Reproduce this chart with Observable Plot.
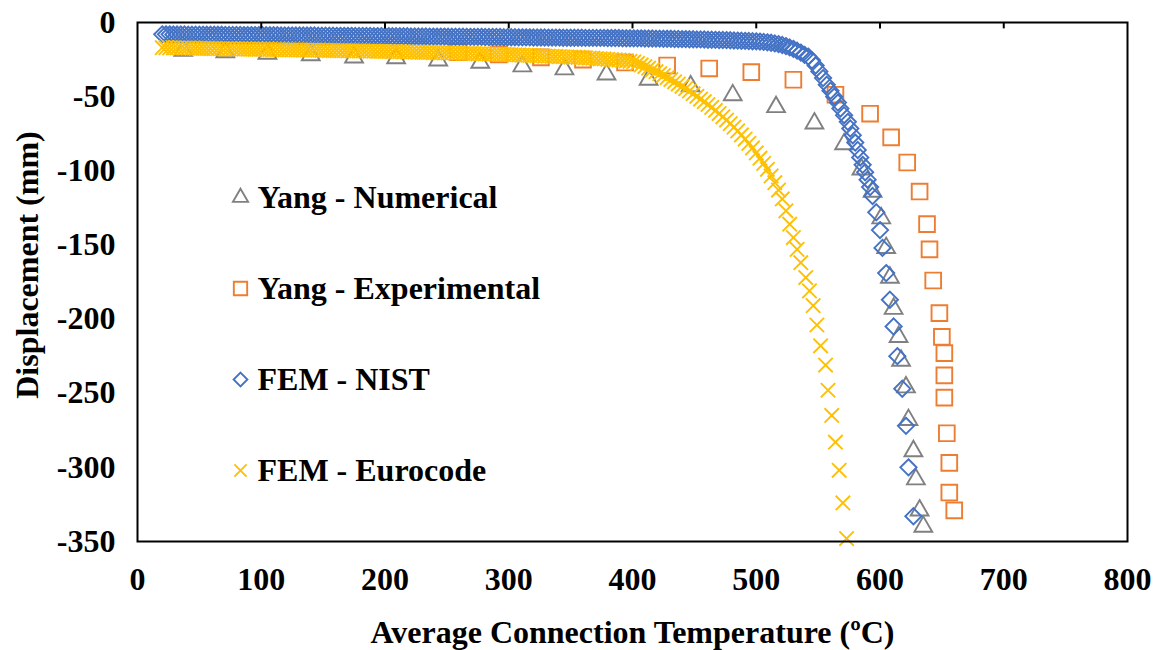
<!DOCTYPE html>
<html><head><meta charset="utf-8">
<script src="https://cdn.jsdelivr.net/npm/d3@7"></script>
<script src="https://cdn.jsdelivr.net/npm/@observablehq/plot@0.6"></script>
<style>body{margin:0;background:#fff} #chart{width:1158px;height:650px}</style>
</head><body><div id="chart"></div>
<script>
// ---- Data ----
const xTicks = [0, 100, 200, 300, 400, 500, 600, 700, 800];
const yTicks = [0, -50, -100, -150, -200, -250, -300, -350];

// Yang - Numerical
const numT = [37,71,105,140,175,209,243,277,311,345,379,413,447,481,516,547,571,585,594,601,605,608,611,615,617,621,623,627,629,632,635];
const numD = [-19,-20,-21,-22,-23.5,-24,-25.5,-27,-29.5,-31.5,-35,-38.5,-43,-49,-57,-68,-82,-99,-114,-132,-152,-172,-193,-212,-228,-246,-268,-289,-308,-329,-340];

// Yang - Experimental (visible points)
const expT = [259,292,326,360,394,428,462,496,530,564,592,609,622,632,638,640,643,648,650,652,652,652,654,656,656,660];
const expD = [-20,-21.5,-23.5,-25,-27,-29,-31,-33.5,-38.6,-48.7,-61.5,-77.5,-94.4,-114,-136,-153,-174,-196,-212,-223,-238,-253,-277,-297,-317,-329];

// FEM - NIST
const nistT = [
  20,23,26,29,32,35,38,41,44,47,
  50,53,56,59,62,65,68,71,74,77,
  80,83,86,89,92,95,98,101,104,107,
  110,113,116,119,122,125,128,131,134,137,
  140,143,146,149,152,155,158,161,164,167,
  170,173,176,179,182,185,188,191,194,197,
  200,203,206,209,212,215,218,221,224,227,
  230,233,236,239,242,245,248,251,254,257,
  260,263,266,269,272,275,278,281,284,287,
  290,293,296,299,302,305,308,311,314,317,
  320,323,326,329,332,335,338,341,344,347,
  350,353,356,359,362,365,368,371,374,377,
  380,383,386,389,392,395,398,401,404,407,
  410,413,416,419,422,425,428,431,434,437,
  440,443,446,449,452,455,458,461,464,467,
  470,473,476,479,482,485,488,491,494,497,
  500,503,506,509,512,515,518,521,524,527,
  530,533,536,539,542,545,548,551,554,557,
  560,563,566,568,571,574,576,578,580,582,
  584,586,588,590,592,594,597,600,602,605,
  608,611,614,618,621,623,627];
const nistD = [
  -8.0,-8.0,-8.0,-8.1,-8.1,-8.1,-8.1,-8.2,-8.2,-8.2,
  -8.2,-8.2,-8.3,-8.3,-8.3,-8.3,-8.3,-8.4,-8.4,-8.4,
  -8.4,-8.4,-8.5,-8.5,-8.5,-8.5,-8.5,-8.6,-8.6,-8.6,
  -8.6,-8.6,-8.7,-8.7,-8.7,-8.7,-8.7,-8.8,-8.8,-8.8,
  -8.8,-8.8,-8.9,-8.9,-8.9,-8.9,-8.9,-9.0,-9.0,-9.0,
  -9.0,-9.0,-9.1,-9.1,-9.1,-9.1,-9.1,-9.2,-9.2,-9.2,
  -9.2,-9.2,-9.3,-9.3,-9.3,-9.3,-9.3,-9.4,-9.4,-9.4,
  -9.4,-9.4,-9.5,-9.5,-9.5,-9.5,-9.5,-9.6,-9.6,-9.6,
  -9.6,-9.6,-9.7,-9.7,-9.7,-9.7,-9.7,-9.8,-9.8,-9.8,
  -9.8,-9.8,-9.9,-9.9,-9.9,-9.9,-10.0,-10.0,-10.0,-10.0,
  -10.1,-10.1,-10.1,-10.1,-10.2,-10.2,-10.2,-10.2,-10.3,-10.3,
  -10.3,-10.3,-10.3,-10.3,-10.4,-10.4,-10.4,-10.4,-10.4,-10.4,
  -10.5,-10.5,-10.5,-10.5,-10.6,-10.6,-10.6,-10.7,-10.7,-10.7,
  -10.8,-10.8,-10.8,-10.9,-10.9,-11.0,-11.0,-11.0,-11.1,-11.1,
  -11.2,-11.2,-11.3,-11.3,-11.4,-11.4,-11.5,-11.6,-11.6,-11.7,
  -11.8,-11.8,-11.9,-12.0,-12.1,-12.2,-12.3,-12.4,-12.5,-12.6,
  -12.7,-12.9,-13.1,-13.4,-13.7,-14.1,-14.6,-15.2,-15.9,-16.8,
  -17.8,-19.0,-20.3,-21.8,-23.0,-25.5,-29,-33,-37.5,-42,
  -46,-50,-54,-58,-62.5,-67,-71.5,-76,-81,-86,
  -91,-96,-101,-106,-111,-117,-128,-140,-152,-169,
  -187,-205,-225,-247,-272,-300,-333];

// FEM - Eurocode
const euroT = [
  20,23,26,29,32,35,38,41,44,47,
  50,53,56,59,62,65,68,71,74,77,
  80,83,86,89,92,95,98,101,104,107,
  110,113,116,119,122,125,128,131,134,137,
  140,143,146,149,152,155,158,161,164,167,
  170,173,176,179,182,185,188,191,194,197,
  200,203,206,209,212,215,218,221,224,227,
  230,233,236,239,242,245,248,251,254,257,
  260,263,266,269,272,275,278,281,284,287,
  290,293,296,299,302,305,308,311,314,317,
  320,323,326,329,332,335,338,341,344,347,
  350,353,356,359,362,365,368,371,374,377,
  380,383,386,389,392,395,398,401,404,407,
  410,413,416,419,422,425,428,431,434,437,
  440,443,446,449,452,455,458,461,464,467,
  470,473,476,479,482,485,488,491,494,497,
  500,503,506,509,512,515,518,521,524,527,
  530,533,536,540,543,546,549,552,556,558,
  561,564,567,570,573];
const euroD = [
  -17.0,-17.0,-17.1,-17.1,-17.2,-17.2,-17.3,-17.3,-17.4,-17.4,
  -17.5,-17.5,-17.5,-17.6,-17.6,-17.7,-17.7,-17.8,-17.8,-17.8,
  -17.9,-17.9,-18.0,-18.0,-18.0,-18.1,-18.1,-18.1,-18.2,-18.2,
  -18.3,-18.3,-18.3,-18.4,-18.4,-18.5,-18.5,-18.5,-18.6,-18.6,
  -18.7,-18.7,-18.7,-18.8,-18.8,-18.9,-18.9,-18.9,-19.0,-19.0,
  -19.1,-19.1,-19.1,-19.2,-19.2,-19.3,-19.3,-19.3,-19.4,-19.4,
  -19.5,-19.5,-19.6,-19.6,-19.7,-19.8,-19.8,-19.9,-19.9,-20.0,
  -20.1,-20.1,-20.2,-20.3,-20.3,-20.4,-20.5,-20.5,-20.6,-20.7,
  -20.7,-20.8,-20.9,-20.9,-21.0,-21.1,-21.1,-21.2,-21.3,-21.3,
  -21.4,-21.5,-21.5,-21.6,-21.7,-21.8,-21.9,-22.0,-22.1,-22.2,
  -22.3,-22.4,-22.5,-22.6,-22.7,-22.8,-22.9,-23.0,-23.1,-23.2,
  -23.3,-23.4,-23.5,-23.7,-23.8,-24.0,-24.1,-24.3,-24.5,-24.6,
  -24.8,-25.0,-25.2,-25.4,-25.6,-25.9,-26.2,-26.6,-27.6,-28.6,
  -29.7,-30.8,-32,-33.2,-34.5,-35.8,-37.1,-38.5,-40,-41.5,
  -43,-44.6,-46.2,-48,-49.8,-51.6,-53.4,-55.3,-57.3,-59.3,
  -61.4,-63.6,-65.8,-68.2,-70.6,-73.1,-75.8,-78.6,-81.5,-84.6,
  -88,-91.5,-95,-99,-103.5,-108,-113,-119,-127,-136,
  -145,-153,-162,-172,-181,-191,-204,-218,-231,-248,
  -265,-283,-302,-324,-348];

const seriesNames = ["Yang - Numerical", "Yang - Experimental", "FEM - NIST", "FEM - Eurocode"];
const seriesT = [numT, expT, nistT, euroT];
const seriesD = [numD, expD, nistD, euroD];
const symbols = ["triangle2", "square2", "diamond2", "times"];
const colors = ["#808080", "#ED7D31", "#4472C4", "#FFC000"];
const radii = [8.5, 10, 7.3, 6.6];

const xLabel = "Average Connection Temperature (ºC)";
const yLabel = "Displacement (mm)";

// ---- Build ----
const font = "'Liberation Serif','Times New Roman',Times,serif";
const fs = 32;
const tables = seriesNames.map((name, k) => seriesT[k].map((t, i) => ({series: name, t, d: seriesD[k][i]})));

const seriesMarks = tables.map((data, k) => Plot.dot(data, {
  x: "t", y: "d", symbol: symbols[k], r: radii[k], stroke: colors[k], strokeWidth: 1.9, fill: "none"
}));

const legendMarks = seriesNames.flatMap((name, k) => [
  Plot.dot([name], {frameAnchor: "top-left", dx: 103, dy: 175 + k * 91, symbol: symbols[k], r: radii[k] * 0.85, stroke: colors[k], strokeWidth: 1.9, fill: "none"}),
  Plot.text([name], {frameAnchor: "top-left", dx: 120, dy: 175 + k * 91, text: d => d, textAnchor: "start", lineAnchor: "middle", fontSize: fs, fontWeight: "bold", fill: "black"})
]);

const chart = Plot.plot({
  width: 1158, height: 650,
  marginLeft: 137, marginRight: 31, marginTop: 22, marginBottom: 109,
  style: {fontFamily: font, fontWeight: "bold", fontSize: fs + "px", background: "white", color: "black"},
  x: {domain: [0, 800]},
  y: {domain: [-350, 0]},
  marks: [
    Plot.axisX({anchor: "bottom", ticks: xTicks, tickSize: 0, tickPadding: 26, label: null, tickFormat: d => String(d), fontSize: fs}),
    Plot.axisY({anchor: "left", ticks: yTicks, tickSize: 0, tickPadding: 22, label: null, tickFormat: d => String(d), fontSize: fs}),
    ...seriesMarks,
    Plot.frame({stroke: "black", strokeWidth: 2}),
    Plot.ruleX(xTicks.slice(1, -1), {y1: 0, y2: -4.3, stroke: "black", strokeWidth: 2}),
    ...legendMarks,
    Plot.text([xLabel], {frameAnchor: "bottom", dy: 91, lineAnchor: "middle", text: d => d, fontSize: fs, fontWeight: "bold", fill: "black"}),
    Plot.text([yLabel], {frameAnchor: "left", dx: -110, dy: -17, rotate: -90, textAnchor: "middle", lineAnchor: "middle", text: d => d, fontSize: fs, fontWeight: "bold", fill: "black"})
  ]
});
document.getElementById("chart").appendChild(chart);
</script>
</body></html>
